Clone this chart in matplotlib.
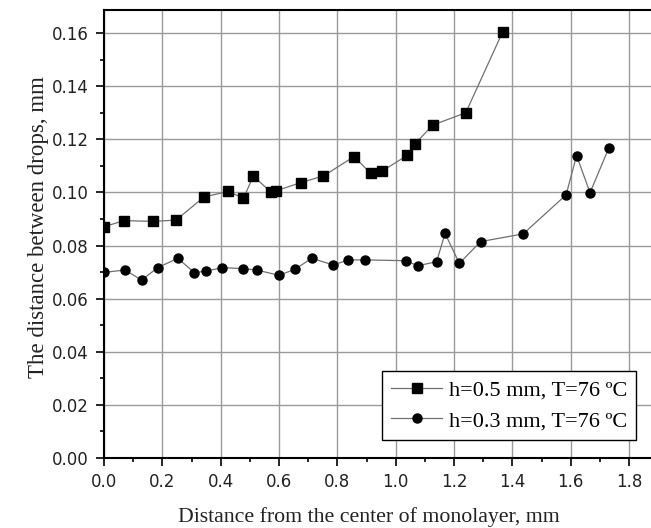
import matplotlib
matplotlib.use("Agg")
import matplotlib.pyplot as plt
from matplotlib.ticker import MultipleLocator

# Series h=0.5 mm (squares)
x_05 = [0.0, 0.069, 0.169, 0.247, 0.343, 0.426, 0.478, 0.512, 0.571, 0.590,
        0.674, 0.752, 0.857, 0.914, 0.954, 1.040, 1.066, 1.127, 1.240, 1.367]
y_05 = [0.0871, 0.0894, 0.0891, 0.0896, 0.0983, 0.1004, 0.0978, 0.1062, 0.1002, 0.1006,
        0.1037, 0.1062, 0.1135, 0.1072, 0.1081, 0.1140, 0.1183, 0.1254, 0.1300, 0.1606]

# Series h=0.3 mm (circles)
x_03 = [0.0, 0.072, 0.129, 0.184, 0.253, 0.310, 0.350, 0.406, 0.478, 0.523,
        0.600, 0.655, 0.712, 0.786, 0.838, 0.895, 1.035, 1.075, 1.140, 1.169,
        1.218, 1.291, 1.437, 1.584, 1.620, 1.666, 1.731]
y_03 = [0.0699, 0.0708, 0.0670, 0.0717, 0.0752, 0.0698, 0.0704, 0.0717, 0.0713, 0.0708,
        0.0688, 0.0711, 0.0752, 0.0727, 0.0746, 0.0746, 0.0743, 0.0724, 0.0739, 0.0846,
        0.0733, 0.0815, 0.0844, 0.0991, 0.1139, 0.0999, 0.1169]

labels = ["h=0.5 mm, T=76 ºC", "h=0.3 mm, T=76 ºC"]
xlabel = "Distance from the center of monolayer, mm"
ylabel = "The distance between drops, mm"

fig = plt.figure(figsize=(6.51, 5.28), dpi=100)
ax = fig.add_axes([104/651, 70/528, 1 - 104/651, (458 - 9.5)/528])

ax.plot(x_05, y_05, color="#707070", lw=0.9, marker="s", ms=6.5,
        mfc="black", mec="black", label=labels[0], zorder=3)
ax.plot(x_03, y_03, color="#707070", lw=0.9, marker="o", ms=6.5,
        mfc="black", mec="black", label=labels[1], zorder=3)

ax.set_xlim(0, 1.875)
ax.set_ylim(0, 0.1689)
ax.xaxis.set_major_locator(MultipleLocator(0.2))
ax.xaxis.set_minor_locator(MultipleLocator(0.1))
ax.yaxis.set_major_locator(MultipleLocator(0.02))
ax.yaxis.set_minor_locator(MultipleLocator(0.01))
ax.xaxis.set_major_formatter(plt.FuncFormatter(lambda v, p: f"{v:.1f}"))
ax.yaxis.set_major_formatter(plt.FuncFormatter(lambda v, p: f"{v:.2f}"))

ax.grid(True, which="major", color="#9a9a9a", lw=1.0)
ax.set_axisbelow(True)
ax.spines["right"].set_visible(False)
for s in ["left", "bottom", "top"]:
    ax.spines[s].set_linewidth(1.5)
    ax.spines[s].set_color("black")

ax.tick_params(which="major", direction="out", length=6, width=1.2,
               labelsize=12, pad=4.8)
ax.tick_params(which="minor", direction="out", length=3, width=1.2)
ax.tick_params(top=False, right=False, which="both")
for lab in ax.get_xticklabels() + ax.get_yticklabels():
    lab.set_fontfamily("DejaVu Sans")
    lab.set_color("#222222")

ax.set_xlabel(xlabel, family="Liberation Serif", fontsize=15.7, color="#222222",
              va="baseline")
ax.xaxis.set_label_coords(0.4845, -0.142)
ax.set_ylabel(ylabel, family="Liberation Serif", fontsize=16.5, color="#222222",
              va="baseline")
ax.yaxis.set_label_coords(-0.1106, 0.516)

leg = ax.legend(loc="lower right", bbox_to_anchor=(636/651, (528-440)/528),
                bbox_transform=fig.transFigure,
                prop={"family": "Liberation Serif", "size": 16},
                frameon=True, fancybox=False, framealpha=1, edgecolor="black",
                handlelength=2.3, handletextpad=0.3, borderpad=0.4,
                labelspacing=0.45, borderaxespad=0)
leg.get_frame().set_linewidth(1.0)

fig.savefig("out.png", dpi=100)
